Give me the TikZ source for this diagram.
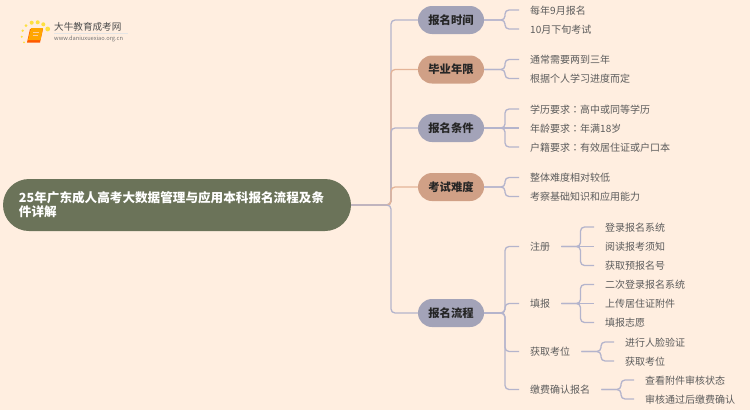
\documentclass[tikz,border=0pt]{standalone}
\usepackage{fontspec}
\setmainfont{Noto Sans CJK SC}
\newfontfamily\colonfont{Noto Sans CJK TC}
\newcommand{\midcolon}{{\colonfont ：}}
\definecolor{pagebg}{HTML}{FFEEE0}
\definecolor{rootbg}{HTML}{6B7359}
\definecolor{greybg}{HTML}{A3A3B8}
\definecolor{sandbg}{HTML}{D0A086}
\definecolor{greyline}{HTML}{B4B4CC}
\definecolor{sandline}{HTML}{E4B498}
\definecolor{leaftext}{HTML}{5C5C5C}
\tikzset{
  pill/.style={rounded corners=14pt,minimum width=66pt,minimum height=28pt,inner sep=0pt,
    font=\fontsize{11.3}{13}\selectfont\bfseries,text=black!85},
  leaf/.style={anchor=west,inner xsep=11pt,inner ysep=1pt,text height=9pt,text depth=1pt,
    font=\fontsize{10}{12}\selectfont,text=leaftext},
  link/.style={line width=1.3pt,rounded corners=4pt,greyline},
  sandlink/.style={link,sandline}
}
\begin{document}
\begin{tikzpicture}[x=1pt,y=-1pt]
    % Background
    \fill[pagebg] (0,0) rectangle (750,410);
    \useasboundingbox (0,0) rectangle (750,410);
    % Logo
    \foreach \dotx/\doty/\dotr in {26/25.7/1.5,31.7/22.7/2,37.7/22.3/2,43.3/24.3/2,47.7/29/2.4,22.7/30.7/1.3,21.7/36.7/1.1,24/42.3/1}
      \fill[yellow!75!orange!75!white] (\dotx,\doty) circle (\dotr);
    \fill[orange!70!red] (30,29) -- (43,29) -- (40,42.5) -- (27,42.5) -- cycle;
    \fill[orange!70!yellow] (31,28) -- (43,28) -- (40.5,40) -- (28,40) -- cycle;
    \draw[white!60!orange,line width=.7pt] (33,32) -- (39,32) (32.5,35) -- (38,35);
    \node[inner sep=0pt,anchor=west,text=black!70,font=\fontsize{9.6}{11}\selectfont] (logoname) at (54,27) {大牛教育成考网};
    \node[inner sep=0pt,anchor=west,text=black!55,font=\fontsize{5.7}{7}\selectfont] (logourl) at (54,39) {www.daniuxuexiao.org.cn};
    \fill[black!10] (54,33) rectangle (128,33.6);
    % Root and topics
    \node[rounded corners=26pt,fill=rootbg,minimum width=348pt,minimum height=52pt,inner xsep=16pt,
      text width=316pt,align=left,text=white,font=\fontsize{12.6}{14}\selectfont\bfseries]
      (root) at (177,205) {25年广东成人高考大数据管理与应用本科报名流程及条\\件详解};
    \node[pill,fill=greybg] (time) at (451,20) {报名时间};
    \node[pill,fill=sandbg] (years) at (451,69.5) {毕业年限};
    \node[pill,fill=greybg] (cond) at (451,128) {报名条件};
    \node[pill,fill=sandbg] (hard) at (451,187) {考试难度};
    \node[pill,fill=greybg] (flow) at (451,313) {报名流程};
    % Leaves
    \node[leaf] (time1) at (519,10) {每年9月报名};
    \node[leaf] (time2) at (519,29) {10月下旬考试};
    \node[leaf] (years1) at (519,59.5) {通常需要两到三年};
    \node[leaf] (years2) at (519,78.5) {根据个人学习进度而定};
    \node[leaf] (cond1) at (519,109) {学历要求\midcolon 高中或同等学历};
    \node[leaf] (cond2) at (519,128) {年龄要求\midcolon 年满18岁};
    \node[leaf] (cond3) at (519,147) {户籍要求\midcolon 有效居住证或户口本};
    \node[leaf] (hard1) at (519,177.5) {整体难度相对较低};
    \node[leaf] (hard2) at (519,196.5) {考察基础知识和应用能力};
    \node[leaf] (reg) at (519,246.5) {注册};
    \node[leaf] (fill) at (519,303.5) {填报};
    \node[leaf] (seat) at (519,351.5) {获取考位};
    \node[leaf] (pay) at (519,389.5) {缴费确认报名};
    \node[leaf] (reg1) at (594,227) {登录报名系统};
    \node[leaf] (reg2) at (594,246.5) {阅读报考须知};
    \node[leaf] (reg3) at (594,265.5) {获取预报名号};
    \node[leaf] (fill1) at (594,284.5) {二次登录报名系统};
    \node[leaf] (fill2) at (594,303.5) {上传居住证附件};
    \node[leaf] (fill3) at (594,322.5) {填报志愿};
    \node[leaf] (seat1) at (614,342) {进行人脸验证};
    \node[leaf] (seat2) at (614,361) {获取考位};
    \node[leaf] (pay1) at (634,380) {查看附件审核状态};
    \node[leaf] (pay2) at (634,399) {审核通过后缴费确认};
    % Links from the root
    \draw[link] (root.east) -- (391,205) |- (time.west);
    \draw[sandlink] (root.east) -- (391,205) |- (years.west);
    \draw[link] (root.east) -- (391,205) |- (cond.west);
    \draw[sandlink] (root.east) -- (391,205) |- (hard.west);
    \draw[link] (root.east) -- (391,205) |- (flow.west);
    % Links from the topics
    \draw[link] (time.east) -- (505,20) |- (time1.west);
    \draw[link] (time.east) -- (505,20) |- (time2.west);
    \draw[link] (years.east) -- (505,69.5) |- (years1.west);
    \draw[link] (years.east) -- (505,69.5) |- (years2.west);
    \draw[link] (cond.east) -- (505,128) |- (cond1.west);
    \draw[link] (cond.east) -- (cond2.west);
    \draw[link] (cond.east) -- (505,128) |- (cond3.west);
    \draw[link] (hard.east) -- (505,187) |- (hard1.west);
    \draw[link] (hard.east) -- (505,187) |- (hard2.west);
    \draw[link] (flow.east) -- (505,313) |- (reg.west);
    \draw[link] (flow.east) -- (505,313) |- (fill.west);
    \draw[link] (flow.east) -- (505,313) |- (seat.west);
    \draw[link] (flow.east) -- (505,313) |- (pay.west);
    % Links of the last level
    \draw[link] (reg.east) -- (580.5,246.5) |- (reg1.west);
    \draw[link] (reg.east) -- (reg2.west);
    \draw[link] (reg.east) -- (580.5,246.5) |- (reg3.west);
    \draw[link] (fill.east) -- (580.5,303.5) |- (fill1.west);
    \draw[link] (fill.east) -- (fill2.west);
    \draw[link] (fill.east) -- (580.5,303.5) |- (fill3.west);
    \draw[link] (seat.east) -- (601,351.5) |- (seat1.west);
    \draw[link] (seat.east) -- (601,351.5) |- (seat2.west);
    \draw[link] (pay.east) -- (621,389.5) |- (pay1.west);
    \draw[link] (pay.east) -- (621,389.5) |- (pay2.west);
  \end{tikzpicture}
\end{document}
